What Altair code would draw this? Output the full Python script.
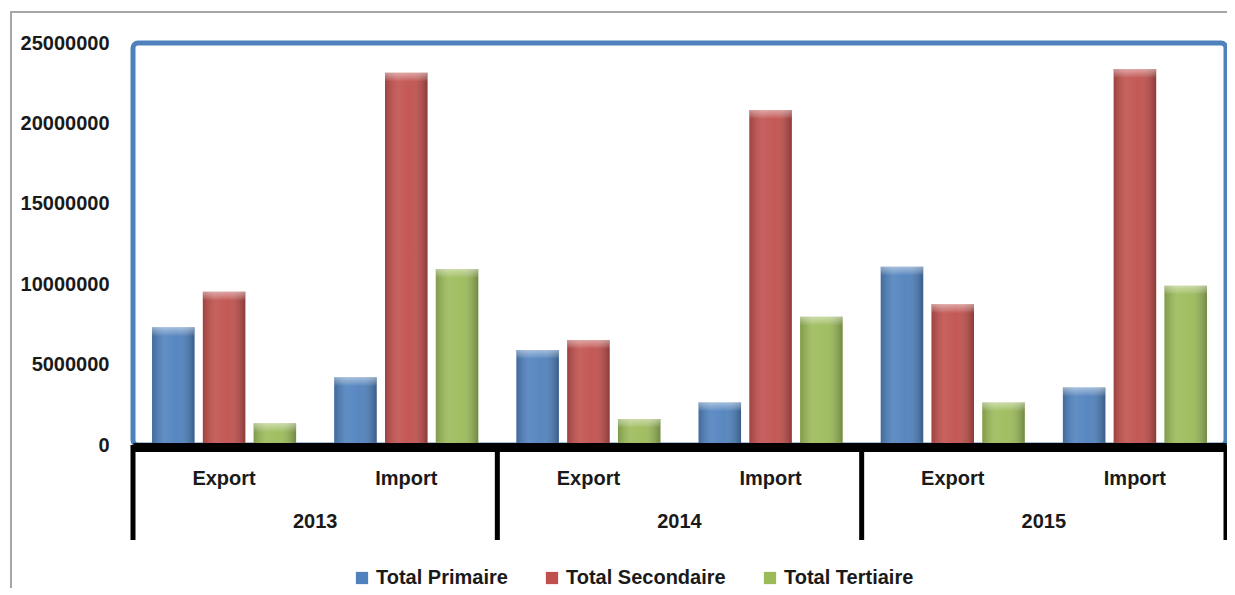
import altair as alt
import pandas as pd

years = ["2013", "2014", "2015"]
flows = ["Export", "Import"]
series = ["Total Primaire", "Total Secondaire", "Total Tertiaire"]
primaire = [7320000, 4210000, 5910000, 2650000, 11090000, 3570000]
secondaire = [9530000, 23150000, 6530000, 20830000, 8750000, 23380000]
tertiaire = [1350000, 10950000, 1620000, 7980000, 2650000, 9910000]
colors = ["#4F81BD", "#C0504D", "#9BBB59"]
y_ticks = [0, 5000000, 10000000, 15000000, 20000000, 25000000]

FONT = "Liberation Sans, Arial, sans-serif"
FS = 20
TXT = "#1a1a1a"

cats = [f"{y} {f}" for y in years for f in flows]
rows = []
for i, c in enumerate(cats):
    for s, vals in zip(series, [primaire, secondaire, tertiaire]):
        rows.append({"cat": c, "series": s, "value": vals[i]})
df = pd.DataFrame(rows)
flow_df = pd.DataFrame({"cat": cats, "flow": flows * len(years)})
year_df = pd.DataFrame({"cat": [f"{y} Import" for y in years], "year": years})
sep_df = pd.DataFrame({"cat": [f"{y} Export" for y in years]})
end_df = pd.DataFrame({"cat": [cats[-1]]})

W, H = 1093, 402
xscale = alt.Scale(domain=cats, paddingInner=0, paddingOuter=0)
yscale = alt.Scale(domain=[0, 25000000], nice=False)
offscale = alt.Scale(domain=series, paddingInner=0.163, paddingOuter=0.375)

x_enc = alt.X("cat:N", scale=xscale,
              axis=alt.Axis(labels=False, ticks=False, title=None, domainColor="black",
                            domainWidth=9, offset=2, zindex=1, grid=False))
y_enc = alt.Y("value:Q", scale=yscale,
              axis=alt.Axis(values=y_ticks, format="d", title=None, domain=False, ticks=False,
                            grid=False, labelPadding=24, labelFont=FONT, labelFontSize=FS,
                            labelFontWeight="bold", labelColor=TXT))

bars = alt.Chart(df).mark_bar().encode(
    x=x_enc,
    y=y_enc,
    xOffset=alt.XOffset("series:N", scale=offscale, sort=series),
    color=alt.Color("series:N", scale=alt.Scale(domain=series, range=colors), sort=series,
                    legend=alt.Legend(orient="none", legendX=219, legendY=525,
                                      direction="horizontal", title=None, symbolType="square",
                                      symbolSize=150, symbolStrokeWidth=0, labelFont=FONT,
                                      labelFontSize=FS, labelFontWeight="bold", labelLimit=0,
                                      labelColor=TXT, columnPadding=34, labelOffset=4)),
)

shine = alt.Chart(df).mark_bar(
    fill=alt.LinearGradient(
        gradient="linear", x1=0, x2=1, y1=0, y2=0,
        stops=[
            alt.GradientStop(color="rgba(0,0,0,0.18)", offset=0),
            alt.GradientStop(color="rgba(255,255,255,0.10)", offset=0.3),
            alt.GradientStop(color="rgba(255,255,255,0.05)", offset=0.6),
            alt.GradientStop(color="rgba(0,0,0,0.28)", offset=1),
        ],
    )
).encode(
    x=alt.X("cat:N", scale=xscale),
    y=alt.Y("value:Q", scale=yscale),
    xOffset=alt.XOffset("series:N", scale=offscale, sort=series),
)

bevel = alt.Chart(df).transform_calculate(
    lower="datum.value - 550000"
).mark_bar(
    fill=alt.LinearGradient(
        gradient="linear", x1=0, x2=0, y1=0, y2=1,
        stops=[
            alt.GradientStop(color="rgba(255,255,255,0.45)", offset=0),
            alt.GradientStop(color="rgba(255,255,255,0.15)", offset=0.7),
            alt.GradientStop(color="rgba(255,255,255,0)", offset=1),
        ],
    )
).encode(
    x=alt.X("cat:N", scale=xscale),
    y=alt.Y("value:Q", scale=yscale),
    y2="lower:Q",
    xOffset=alt.XOffset("series:N", scale=offscale, sort=series),
)

flow_text = alt.Chart(flow_df).mark_text(
    font=FONT, fontSize=FS, fontWeight="bold", color=TXT, baseline="middle"
).encode(x=alt.X("cat:N", scale=xscale), y=alt.value(436), text="flow:N")

year_text = alt.Chart(year_df).mark_text(
    font=FONT, fontSize=FS, fontWeight="bold", color=TXT, baseline="middle"
).encode(x=alt.X("cat:N", scale=xscale, bandPosition=0), y=alt.value(479), text="year:N")

seps = alt.Chart(sep_df).mark_rule(color="black", strokeWidth=5).encode(
    x=alt.X("cat:N", scale=xscale, bandPosition=0), y=alt.value(402), y2=alt.value(497)
)
end_sep = alt.Chart(end_df).mark_rule(color="black", strokeWidth=5).encode(
    x=alt.X("cat:N", scale=xscale, bandPosition=1), y=alt.value(402), y2=alt.value(497)
)

frame = alt.Chart(pd.DataFrame({"a": [0]})).mark_rect(
    fillOpacity=0, stroke="#A6A6A6", strokeWidth=2
).encode(x=alt.value(-122), x2=alt.value(1110), y=alt.value(-31), y2=alt.value(620))

chart = alt.layer(frame, bars, shine, bevel, seps, end_sep, flow_text, year_text).properties(
    width=W, height=H,
    background="white",
    autosize=alt.AutoSizeParams(type="none"),
    padding={"left": 125, "top": 35, "right": 1, "bottom": 143},
).configure_view(
    stroke="#4F81BD", strokeWidth=5, cornerRadius=5
)

chart.save("out.html", embed_options={"renderer": "svg", "actions": False})
